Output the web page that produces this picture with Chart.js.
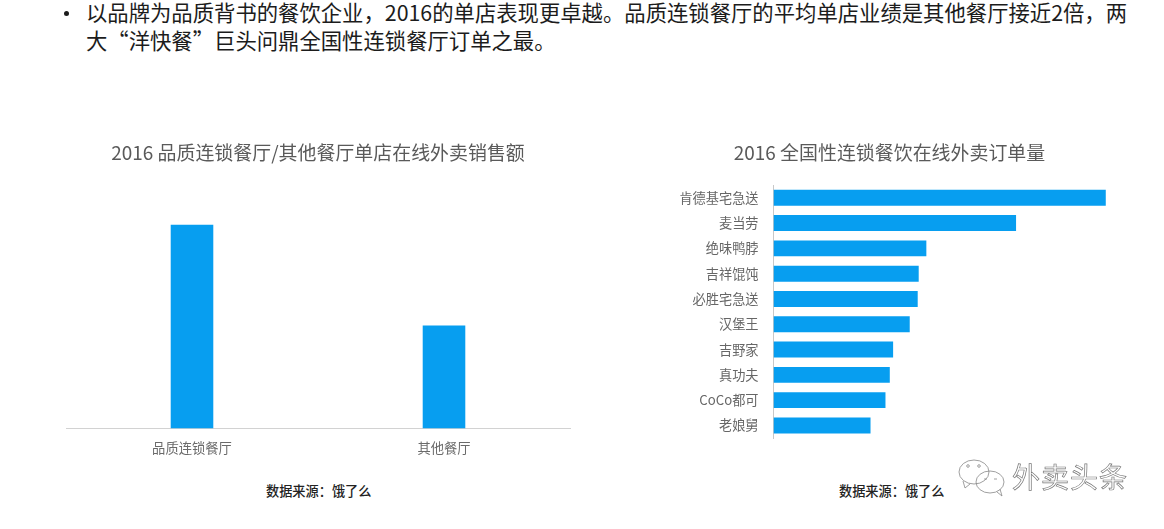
<!DOCTYPE html>
<html>
<head>
<meta charset="utf-8">
<script src="https://cdn.jsdelivr.net/npm/chart.js@4"></script>
<style>
    html, body { margin: 0; padding: 0; background: #fff; }
    body { width: 1164px; height: 529px; position: relative; overflow: hidden; font-family: "Noto Sans CJK SC", sans-serif; }
    .holder { position: absolute; }
    .intro { position: absolute; left: 86px; top: -2px; width: 1060px; font-size: 21.35px; line-height: 28px; color: #1c1c1c; white-space: nowrap; }
    .dot { position: absolute; left: 64px; top: 11px; width: 5px; height: 5px; border-radius: 50%; background: #1c1c1c; }
    .source { position: absolute; top: 482px; font-size: 13.2px; line-height: 18px; font-weight: 500; color: #222; white-space: nowrap; }
    .mark { position: absolute; left: 1012px; top: 456px; font-size: 28px; line-height: 40px; letter-spacing: 1px; color: #fff; -webkit-text-stroke: 0.7px #777; white-space: nowrap; }
    .logo { position: absolute; left: 955px; top: 455px; }
</style>
</head>
<body>

<div class="dot"></div>
<div class="intro">以品牌为品质背书的餐饮企业，2016的单店表现更卓越。品质连锁餐厅的平均单店业绩是其他餐厅接近2倍，两<br>大“洋快餐”巨头问鼎全国性连锁餐厅订单之最。</div>

<div class="holder" style="left:66px;top:130px;width:508px;height:335px"><canvas id="chart-left"></canvas></div>
<div class="holder" style="left:640px;top:130px;width:511px;height:331px"><canvas id="chart-right"></canvas></div>

<div class="source" style="left:266px">数据来源：饿了么</div>
<div class="source" style="left:839px">数据来源：饿了么</div>

<svg class="logo" width="54" height="44" fill="none" stroke="#888" stroke-width="0.8">
    <ellipse cx="19" cy="17" rx="15" ry="12"/>
    <ellipse cx="35" cy="27" rx="14" ry="11"/>
    <path d="M8 26 L10 33 L15 29"/>
    <path d="M42 37 L47 41 L45 34"/>
    <circle cx="13" cy="11" r="1.3"/>
    <circle cx="24" cy="11" r="1.3"/>
    <path d="M29 24 h3 M39 24 h3"/>
</svg>
<div class="mark">外卖头条</div>

<script>
    var leftTitle = '2016 品质连锁餐厅/其他餐厅单店在线外卖销售额';
    var leftLabels = ['品质连锁餐厅', '其他餐厅'];
    var leftValues = [100, 50.5];

    var rightTitle = '2016 全国性连锁餐饮在线外卖订单量';
    var rightLabels = ['肯德基宅急送', '麦当劳', '绝味鸭脖', '吉祥馄饨', '必胜宅急送', '汉堡王', '吉野家', '真功夫', 'CoCo都可', '老娘舅'];
    var rightValues = [100, 73, 46, 43.7, 43.4, 41, 36, 35, 33.7, 29.2];

    var barColor = '#079ef0';
    var fontName = '"Noto Sans CJK SC", sans-serif';

    var titleOptions = function(text) {
        return {
            display: true,
            text: text,
            color: '#5a5a5a',
            font: { family: fontName, size: 18.95, weight: 'normal', lineHeight: 1.2 },
            padding: { top: 11, bottom: 21.4 }
        };
    };

    new Chart(document.getElementById('chart-left').getContext('2d'), {
        type: 'bar',
        data: {
            labels: leftLabels,
            datasets: [{ data: leftValues, backgroundColor: barColor, barPercentage: 0.169, categoryPercentage: 1 }]
        },
        options: {
            responsive: true,
            maintainAspectRatio: false,
            animation: false,
            layout: { padding: { right: 4 } },
            plugins: { legend: { display: false }, tooltip: { enabled: false }, title: titleOptions(leftTitle) },
            scales: {
                x: {
                    afterFit: function(scale) { scale.height = 36.5; },
                    grid: { display: false, drawTicks: false },
                    border: { color: '#d2d2d2' },
                    ticks: { color: '#6a6a6a', padding: 11, maxRotation: 0, font: { family: fontName, size: 13.3 } }
                },
                y: { display: false, min: 0, max: 119.4 }
            }
        }
    });

    new Chart(document.getElementById('chart-right').getContext('2d'), {
        type: 'bar',
        data: {
            labels: rightLabels,
            datasets: [{ data: rightValues, backgroundColor: barColor, barPercentage: 0.63, categoryPercentage: 1 }]
        },
        options: {
            indexAxis: 'y',
            responsive: true,
            maintainAspectRatio: false,
            animation: false,
            layout: { padding: { right: 12 } },
            plugins: { legend: { display: false }, tooltip: { enabled: false }, title: titleOptions(rightTitle) },
            scales: {
                x: { display: false, min: 0, max: 110 },
                y: {
                    afterFit: function(scale) { scale.width = 133.5; },
                    grid: { display: false, drawTicks: false },
                    border: { color: '#c8c8c8' },
                    ticks: { color: '#666', padding: 15, autoSkip: false, font: { family: fontName, size: 13.2 } }
                }
            }
        }
    });
</script>
</body>
</html>
